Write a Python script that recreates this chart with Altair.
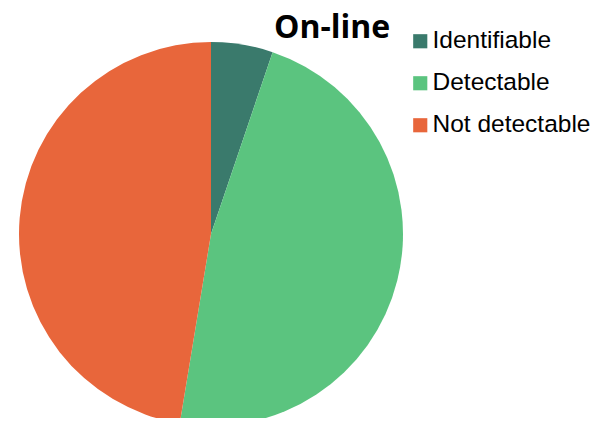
import altair as alt
import pandas as pd

categories = ["Identifiable", "Detectable", "Not detectable"]
values = [5.2, 47.4, 47.4]
colors = ["#3a7a6c", "#5bc47f", "#e8663b"]
title_text = "On-line"

df = pd.DataFrame({"category": categories, "value": values, "order": [0, 1, 2]})

pie = alt.Chart(df).mark_arc(outerRadius=192, stroke=None).encode(
    theta=alt.Theta("value:Q", stack=True),
    order=alt.Order("order:Q"),
    color=alt.Color(
        "category:N",
        scale=alt.Scale(domain=categories, range=colors),
        legend=alt.Legend(
            title=None,
            orient="none",
            legendX=400,
            legendY=21,
            symbolType="square",
            symbolSize=200,
            symbolStrokeWidth=0,
            labelFont="Liberation Sans",
            labelFontSize=24.5,
            labelColor="#000000",
            rowPadding=17,
            labelOffset=0,
            labelLimit=300,
        ),
    ),
    x=alt.value(203),
    y=alt.value(226),
)

title = alt.Chart(pd.DataFrame({"t": [title_text]})).mark_text(
    font="Open Sans", fontSize=32, fontWeight="bold", align="left", baseline="alphabetic", color="#000000"
).encode(text="t:N", x=alt.value(266), y=alt.value(30))

chart = alt.layer(pie, title).properties(
    width=588, height=410, autosize=alt.AutoSizeParams(type="none"), padding=0
).configure_view(stroke=None)

chart.save("out.html", embed_options={"renderer": "svg", "actions": False})
